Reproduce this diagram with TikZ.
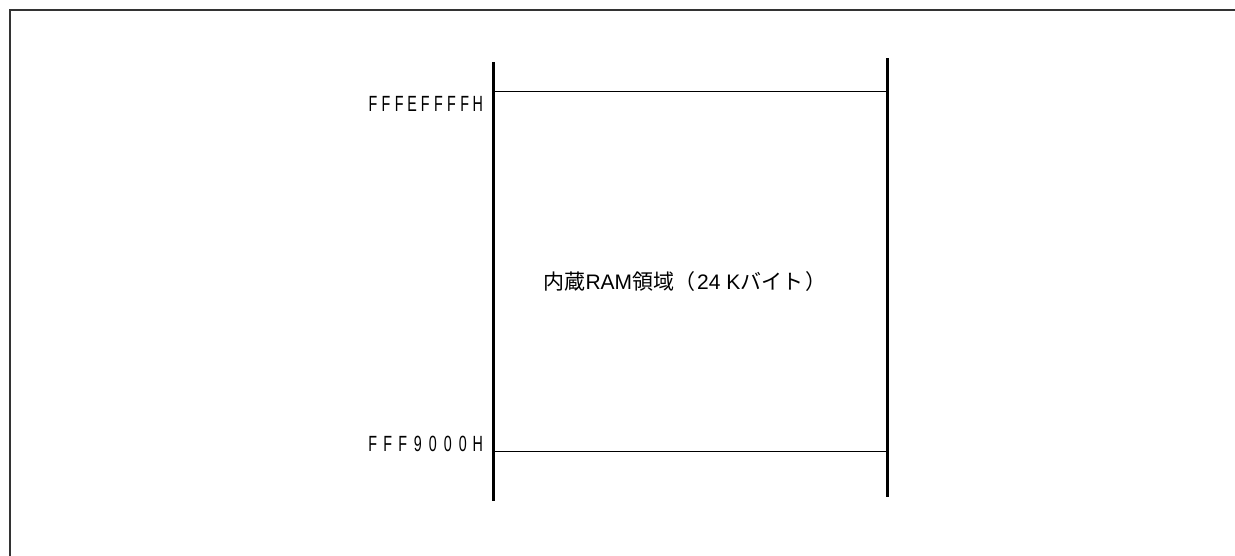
\documentclass[tikz,border=0pt]{standalone}
\usepackage{fontspec}
\setmainfont{Liberation Sans}
\newfontfamily\cjk{Noto Sans CJK JP}
\newcommand{\lc}[1]{\makebox[13.1pt]{#1}}
\newcommand{\lw}[1]{\makebox[15pt]{#1}}
\begin{document}
\begin{tikzpicture}[x=1pt,y=-1pt,
  frame/.style={line width=2pt,draw=black!80},
  vbar/.style={line width=3pt,draw=black},
  hbar/.style={line width=1pt,draw=black},
  addr/.style={anchor=east,inner sep=0pt,font=\fontsize{22}{22}\selectfont\addfontfeature{FakeStretch=0.65}},
  lbl/.style={inner sep=0pt,font=\fontsize{21}{22}\selectfont}]
\useasboundingbox (0,0) rectangle (1235,555);
\draw[frame] (10,560) -- (10,10) -- (1240,10);
\coordinate (lt) at (493,62);
\coordinate (lb) at (493,501);
\coordinate (rt) at (887,58);
\coordinate (rb) at (887,497);
\draw[vbar] (lt) -- (lb);
\draw[vbar] (rt) -- (rb);
\coordinate (t1) at (493,91);
\coordinate (t2) at (887,91);
\coordinate (b1) at (493,451);
\coordinate (b2) at (887,451);
\draw[hbar] (t1) -- (t2);
\draw[hbar] (b1) -- (b2);
\node[addr] (a1) at (484.5,104) {\lc{F}\lc{F}\lc{F}\lc{E}\lc{F}\lc{F}\lc{F}\lc{F}\lc{H}};
\node[addr] (a2) at (485.5,444) {\lw{F}\lw{F}\lw{F}\lw{9}\lw{0}\lw{0}\lw{0}\lw{H}};
\node[lbl] (m) at (685,282) {{\cjk 内蔵}RAM{\cjk 領域（}\hspace{2pt}24 K{\cjk バイト}\hspace{2pt}{\cjk ）}};
\end{tikzpicture}
\end{document}
